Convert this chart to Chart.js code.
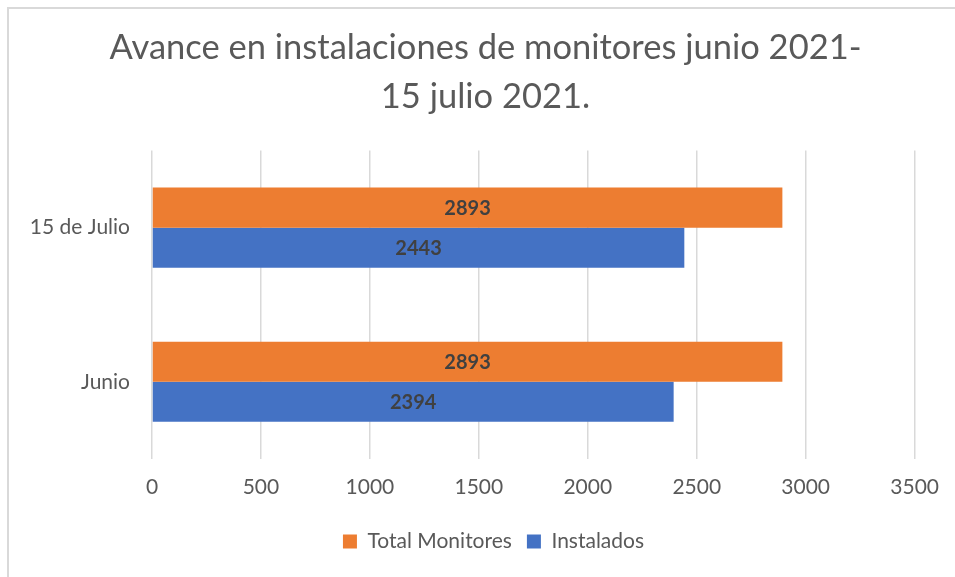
<!DOCTYPE html>
<html>
<head>
<meta charset="utf-8">
<script src="https://cdn.jsdelivr.net/npm/chart.js@4.4.1/dist/chart.umd.min.js"></script>
<style>
  html, body { margin: 0; padding: 0; background: #fff; overflow: hidden; }
  #frame {
    position: absolute; left: 7px; top: 7px; width: 2000px; height: 2000px;
    border-left: 2px solid #d9d9d9; border-top: 2px solid #d9d9d9;
  }
  #wrap { position: absolute; left: 0; top: 0; width: 955px; height: 577px; }
</style>
</head>
<body>
<div id="frame"></div>
<div id="wrap"><canvas id="chart"></canvas></div>
<script>
// data
const categories = ['15 de Julio', 'Junio'];
const totalMonitores = [2893, 2893];
const instalados = [2443, 2394];
const titleLines = ['Avance en instalaciones de monitores junio 2021-', '15 julio 2021.'];

const FONT = 'Lato, "Open Sans", sans-serif';
const GREY = '#595959';

// value labels centred inside each bar
const barLabels = {
  id: 'barLabels',
  afterDatasetsDraw(chart) {
    const ctx = chart.ctx;
    ctx.save();
    ctx.font = 'bold 20px ' + FONT;
    ctx.fillStyle = '#404040';
    ctx.textAlign = 'center';
    ctx.textBaseline = 'middle';
    chart.data.datasets.forEach((ds, i) => {
      chart.getDatasetMeta(i).data.forEach((bar, j) => {
        ctx.fillText(ds.data[j], (bar.base + bar.x) / 2, bar.y + 1);
      });
    });
    ctx.restore();
  }
};

// the original centres title and legend on the whole frame, not the plot
const shiftBoxes = {
  id: 'shiftBoxes',
  afterLayout(chart) {
    if (chart.titleBlock) { chart.titleBlock.left += 28; chart.titleBlock.right += 28; }
    if (chart.legend) { chart.legend.left += 36; chart.legend.right += 36; }
  }
};

new Chart(document.getElementById('chart'), {
  type: 'bar',
  data: {
    labels: categories,
    datasets: [
      { label: 'Total Monitores', data: totalMonitores, backgroundColor: '#ed7d31' },
      { label: 'Instalados', data: instalados, backgroundColor: '#4472c4' }
    ]
  },
  options: {
    indexAxis: 'y',
    responsive: true,
    maintainAspectRatio: false,
    animation: false,
    barPercentage: 1,
    categoryPercentage: 0.52,
    layout: { padding: { top: 24, right: 40, bottom: 15, left: 0 } },
    plugins: {
      title: {
        display: true,
        text: titleLines,
        color: GREY,
        font: { family: FONT, size: 34.5, weight: 'normal', lineHeight: 1.4 },
        padding: { top: 0, bottom: 30 }
      },
      legend: {
        position: 'bottom',
        labels: {
          color: GREY,
          font: { family: FONT, size: 21 },
          boxWidth: 14,
          boxHeight: 14,
          padding: 15
        }
      },
      tooltip: { enabled: false }
    },
    scales: {
      x: {
        min: 0,
        max: 3500,
        ticks: {
          stepSize: 500, color: GREY, font: { family: FONT, size: 21 }, padding: 16,
          callback: v => String(v)
        },
        grid: { color: '#d9d9d9', lineWidth: 1.5, drawTicks: false },
        border: { display: false }
      },
      y: {
        ticks: { color: GREY, font: { family: FONT, size: 21 }, padding: 22 },
        grid: { display: false, drawTicks: false },
        border: { display: false },
        afterFit(scale) { scale.width = 152; }
      }
    }
  },
  plugins: [barLabels, shiftBoxes]
});
</script>
</body>
</html>
